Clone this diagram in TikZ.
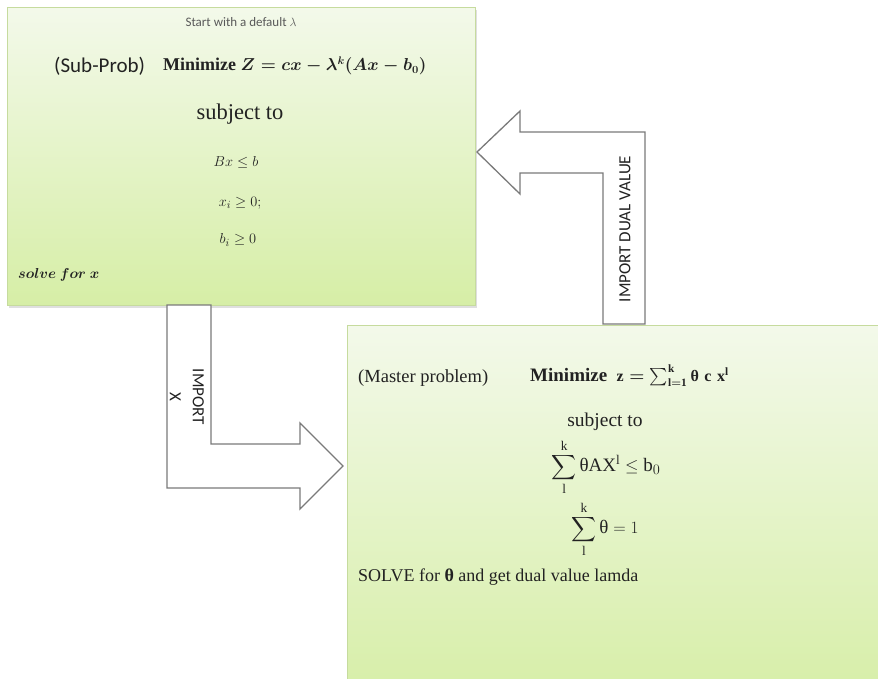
\documentclass[tikz,border=0pt]{standalone}
\usepackage{amsmath}
\usepackage{fontspec}
\setmainfont{Liberation Serif}
\newfontfamily\calib{Carlito}
\usetikzlibrary{shadows}
\definecolor{boxtop}{HTML}{F3F9EA}
\definecolor{boxbot}{HTML}{D6EEA6}
\definecolor{boxline}{HTML}{C6DB9E}
\definecolor{arrline}{HTML}{7A7A7A}
\definecolor{txt}{HTML}{222222}
\tikzset{
  gbox/.style={draw=boxline, line width=1.2pt, top color=boxtop, bottom color=boxbot,
    anchor=north west, inner sep=0pt,
    drop shadow={opacity=0.25, shadow xshift=1.5pt, shadow yshift=-2pt}},
  blockarrow/.style={draw=arrline, line width=1.3pt, fill=white, line join=miter},
  lbl/.style={text=txt, inner sep=0pt},
  sanslbl/.style={lbl, font=\calib\fontsize{17}{22}\selectfont},
}
\begin{document}
\begin{tikzpicture}[x=1pt,y=-1pt]
\useasboundingbox (0,0) rectangle (878,678);
\clip (0,0) rectangle (878,678);
\fill[white] (0,0) rectangle (878,678);
% boxes
\node[gbox, minimum width=468pt, minimum height=298pt] (sub) at (7,7) {};
\node[gbox, minimum width=560pt, minimum height=380pt] (master) at (347,325) {};
% block arrows
\draw[blockarrow] (167,305) -- (211,305) -- (211,444) -- (300,444) -- (300,423)
  -- (343,466) -- (300,509) -- (300,488) -- (167,488) -- cycle;
\draw[blockarrow] (645,324) -- (645,132) -- (520,132) -- (520,111) -- (477,152)
  -- (520,194) -- (520,173) -- (603,173) -- (603,324) -- cycle;
\node[sanslbl, rotate=90] (dual) at (625,229) {IMPORT DUAL VALUE};
\node[sanslbl, rotate=-90, align=center, font=\calib\fontsize{17}{23}\selectfont] (impx) at (187,397) {IMPORT\\X};
% sub problem text
\node[lbl, text=black!65, font=\calib\fontsize{13}{15}\selectfont] (start) at (241,22) {Start with a default $\lambda$};
\node[lbl, font=\calib\fontsize{21}{24}\selectfont, anchor=west] (subp) at (54,66) {(Sub-Prob)};
\node[lbl, font=\fontsize{18}{22}\selectfont, anchor=west] (minz) at (163,66)
  {\textbf{Minimize} {\fontsize{16.2}{20}\selectfont\boldmath$Z = cx - \lambda^{k}(Ax - b_{0})$}};
\node[lbl, font=\fontsize{22.5}{26}\selectfont] (subj1) at (240,114) {subject to};
\node[lbl, font=\fontsize{15}{18}\selectfont] (c1) at (236,162) {$Bx \le b$};
\node[lbl, font=\fontsize{15}{18}\selectfont] (c2) at (240,203) {$x_i \ge 0;$};
\node[lbl, font=\fontsize{15}{18}\selectfont] (c3) at (238,240) {$b_i \ge 0$};
\node[lbl, font=\fontsize{15}{18}\selectfont\boldmath, anchor=west] (solvex) at (18,275) {$solve~for~x$};
% master problem text
\node[lbl, font=\fontsize{18.5}{22}\selectfont, anchor=west] (mp) at (358,378) {(Master problem)};
\node[lbl, font=\fontsize{19}{22}\selectfont, anchor=west] (mmin) at (530,376)
  {\textbf{Minimize}\ \ {\fontsize{16}{20}\selectfont\boldmath$\mathrm{z}=\sum\nolimits_{\mathrm{l=1}}^{\mathrm{k}}\textbf{θ}\;\mathrm{c}\;\mathrm{x}^{\mathrm{l}}$}};
\node[lbl, font=\fontsize{19.5}{22}\selectfont] (subj2) at (605,422) {subject to};
\node[lbl, font=\fontsize{19}{22}\selectfont] (m1) at (606,467)
  {$\displaystyle\sum_{\mathrm{l}}^{\mathrm{k}}\text{θ}\mathrm{AX}^{\mathrm{l}}\le \mathrm{b}_0$};
\node[lbl, font=\fontsize{19}{22}\selectfont] (m2) at (605,529)
  {$\displaystyle\sum_{\mathrm{l}}^{\mathrm{k}}\text{θ} = 1$};
\node[lbl, font=\fontsize{18}{21}\selectfont, anchor=west] (solvet) at (358,577)
  {SOLVE for \textbf{θ} and get dual value lamda};
\end{tikzpicture}
\end{document}
